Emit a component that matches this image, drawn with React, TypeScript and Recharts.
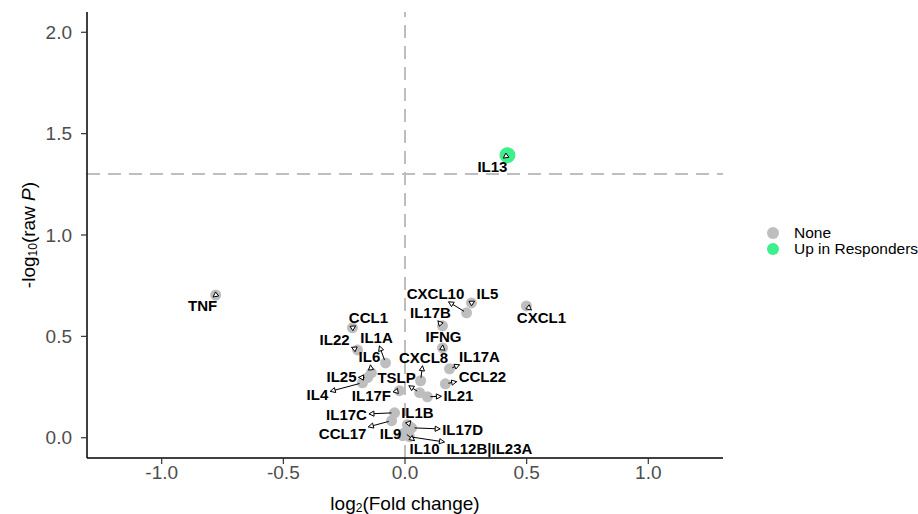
import { ReferenceLine, Scatter, ScatterChart, XAxis, YAxis } from 'recharts';

const genes = [
  'TNF', 'CXCL1', 'IL13', 'IL5', 'CXCL10', 'IL17B', 'IFNG', 'IL17A', 'CCL22',
  'CXCL8', 'TSLP', 'IL21', 'IL17F', 'IL4', 'IL25', 'IL6', 'IL1A', 'IL22', 'CCL1',
  'IL17C', 'CCL17', 'IL1B', 'IL17D', 'IL9', 'IL10', 'IL12B|IL23A',
];
const log2FC = [
  -0.778, 0.499, 0.421, 0.273, 0.253, 0.154, 0.154, 0.183, 0.166,
  0.064, 0.06, 0.092, -0.023, -0.175, -0.154, -0.138, -0.08, -0.195, -0.216,
  -0.043, -0.055, 0.01, 0.027, -0.01, -0.002, 0.018,
];
const negLog10P = [
  0.704, 0.65, 1.394, 0.665, 0.616, 0.552, 0.443, 0.34, 0.266,
  0.281, 0.222, 0.202, 0.232, 0.271, 0.296, 0.32, 0.369, 0.433, 0.542,
  0.123, 0.084, 0.064, 0.049, 0.01, 0.025, 0.005,
];
const direction = genes.map((g) => (g === 'IL13' ? 'Up in Responders' : 'None'));

const xTicks = [-1, -0.5, 0, 0.5, 1];
const yTicks = [0, 0.5, 1, 1.5, 2];
const pThreshold = -Math.log10(0.05);

const rows = genes.map((gene, i) => ({ gene, x: log2FC[i], y: negLog10P[i], dir: direction[i] }));
const noneRows = rows.filter((r) => r.dir === 'None');
const upRows = rows.filter((r) => r.dir === 'Up in Responders');

// label placement (pixel offset of label centre from its point), like ggrepel output
const labelOffsets: Record<string, [number, number]> = {
  TNF: [-13, 10], CXCL1: [15, 12], IL13: [-15, 11], IL5: [16, -9], CXCL10: [-31, -19],
  IL17B: [-12, -13], IFNG: [1, -11], IL17A: [30, -12], CCL22: [37, -7], CXCL8: [3, -23],
  IL21: [31, -1], TSLP: [-23, -15], IL17F: [-28, 5], IL4: [-45, 12], IL25: [-26, -1],
  IL6: [-2, -16], IL1A: [-9, -25], IL22: [-23, -10], CCL1: [16, -10], IL17C: [-48, 2],
  IL1B: [10, -12], IL17D: [51, 2], CCL17: [-49, 13], IL9: [-12, -2], IL10: [20, 16],
  'IL12B|IL23A': [80, 12],
};

const FONT = '"Liberation Sans", Arial, sans-serif';
const GREY = '#BEBEBE';
const GREEN = '#3CF08C';
const LABEL_SIZE = 15;

const charW: Record<string, number> = {
  I: 0.278, L: 0.611, T: 0.611, F: 0.611, X: 0.667, P: 0.667, S: 0.667, G: 0.778, '|': 0.28,
};
function textWidth(s: string) {
  let w = 0;
  for (const c of s) w += charW[c] ?? (/[0-9]/.test(c) ? 0.556 : 0.722);
  return w * LABEL_SIZE;
}

function Dot(props: any) {
  const { cx, cy, fill, r } = props;
  return <circle cx={cx} cy={cy} r={r} fill={fill} />;
}

function GeneLabel(props: any) {
  const { cx, cy, payload } = props;
  const off = labelOffsets[payload.gene] ?? [0, -12];
  const lx = cx + off[0];
  const ly = cy + off[1];
  const hw = textWidth(payload.gene) / 2 + 2;
  const hh = 8;
  const dx = cx - lx;
  const dy = cy - ly;
  const t = Math.min(dx === 0 ? Infinity : hw / Math.abs(dx), dy === 0 ? Infinity : hh / Math.abs(dy));
  let arrow = null;
  if (t < 1) {
    const ex = lx + dx * t;
    const ey = ly + dy * t;
    const len = Math.hypot(ex - cx, ey - cy) || 1;
    const ux = (ex - cx) / len;
    const uy = (ey - cy) / len;
    const head = 5;
    const bx = ex - ux * head;
    const by = ey - uy * head;
    const px = -uy * 2.6;
    const py = ux * 2.6;
    const sx = cx + ux * Math.min(3, len);
    const sy = cy + uy * Math.min(3, len);
    arrow = (
      <g>
        {len > 6 && <line x1={sx} y1={sy} x2={ex} y2={ey} stroke="#000" strokeWidth={1} />}
        <polygon
          points={`${ex},${ey} ${bx + px},${by + py} ${bx - px},${by - py}`}
          fill="#fff"
          stroke="#000"
          strokeWidth={1}
        />
      </g>
    );
  }
  return (
    <g>
      {arrow}
      <text
        x={lx}
        y={ly}
        textAnchor="middle"
        dominantBaseline="central"
        fontFamily={FONT}
        fontWeight="bold"
        fontSize={LABEL_SIZE}
        fill="#000"
      >
        {payload.gene}
      </text>
    </g>
  );
}

const legendItems = [
  { name: 'None', color: GREY },
  { name: 'Up in Responders', color: GREEN },
];

export default function App() {
  return (
    <div style={{ position: 'absolute', left: 0, top: 0, width: 918, height: 514, background: '#fff', overflow: 'hidden' }}>
      <ScatterChart width={918} height={514} margin={{ top: 12, right: 195, bottom: 0, left: 0 }}>
        <XAxis
          type="number"
          dataKey="x"
          domain={[-1.307, 1.307]}
          ticks={xTicks}
          allowDataOverflow
          height={56}
          tickFormatter={(v: number) => v.toFixed(1)}
          tick={{ fontSize: 19, fill: '#4D4D4D', fontFamily: FONT }}
          tickSize={6}
          tickMargin={2}
          axisLine={{ stroke: '#000', strokeWidth: 1.5 }}
          tickLine={{ stroke: '#333', strokeWidth: 1.2 }}
          label={{
            content: (p: any) => {
              const vb = p.viewBox;
              return (
                <text x={vb.x + vb.width / 2} y={503} textAnchor="middle" dominantBaseline="central" fontFamily={FONT} fontSize={19} fill="#000">
                  log<tspan fontSize={12} dy={5}>2</tspan>
                  <tspan dy={-5}>(Fold change)</tspan>
                </text>
              );
            },
          }}
        />
        <YAxis
          type="number"
          dataKey="y"
          domain={[-0.1, 2.1]}
          ticks={yTicks}
          allowDataOverflow
          width={87}
          tickFormatter={(v: number) => v.toFixed(1)}
          tick={{ fontSize: 19, fill: '#4D4D4D', fontFamily: FONT }}
          tickSize={6}
          tickMargin={9}
          axisLine={{ stroke: '#000', strokeWidth: 1.5 }}
          tickLine={{ stroke: '#333', strokeWidth: 1.2 }}
          label={{
            content: (p: any) => {
              const vb = p.viewBox;
              const cy = vb.y + vb.height / 2;
              return (
                <text
                  x={28}
                  y={cy}
                  transform={`rotate(-90 28 ${cy})`}
                  textAnchor="middle"
                  dominantBaseline="central"
                  fontFamily={FONT}
                  fontSize={19}
                  fill="#000"
                >
                  -log<tspan fontSize={12} dy={5}>10</tspan>
                  <tspan dy={-5}>(raw </tspan>
                  <tspan fontStyle="italic">P</tspan>)
                </text>
              );
            },
          }}
        />
        <ReferenceLine x={0} stroke={GREY} strokeWidth={2} strokeDasharray="13 8" />
        <ReferenceLine y={pThreshold} stroke={GREY} strokeWidth={2} strokeDasharray="13 8" />
        <Scatter data={noneRows} fill={GREY} isAnimationActive={false} shape={(p: any) => <Dot {...p} r={5.5} />} />
        <Scatter data={upRows} fill={GREEN} isAnimationActive={false} shape={(p: any) => <Dot {...p} r={8} />} />
        <Scatter data={rows} fill="#000" isAnimationActive={false} shape={(p: any) => <GeneLabel {...p} />} />
      </ScatterChart>
      <div
        style={{
          position: 'absolute',
          left: 765,
          top: 225,
          width: 153,
          whiteSpace: 'nowrap',
          fontFamily: FONT,
          fontSize: 15.5,
          lineHeight: '16px',
          color: '#000',
        }}
      >
        {legendItems.map((it) => (
          <div key={it.name} style={{ display: 'flex', alignItems: 'center', height: 16 }}>
            <svg width={16} height={16} style={{ marginRight: 13, flexShrink: 0 }}>
              <circle cx={8} cy={8} r={6} fill={it.color} />
            </svg>
            <span>{it.name}</span>
          </div>
        ))}
      </div>
    </div>
  );
}
